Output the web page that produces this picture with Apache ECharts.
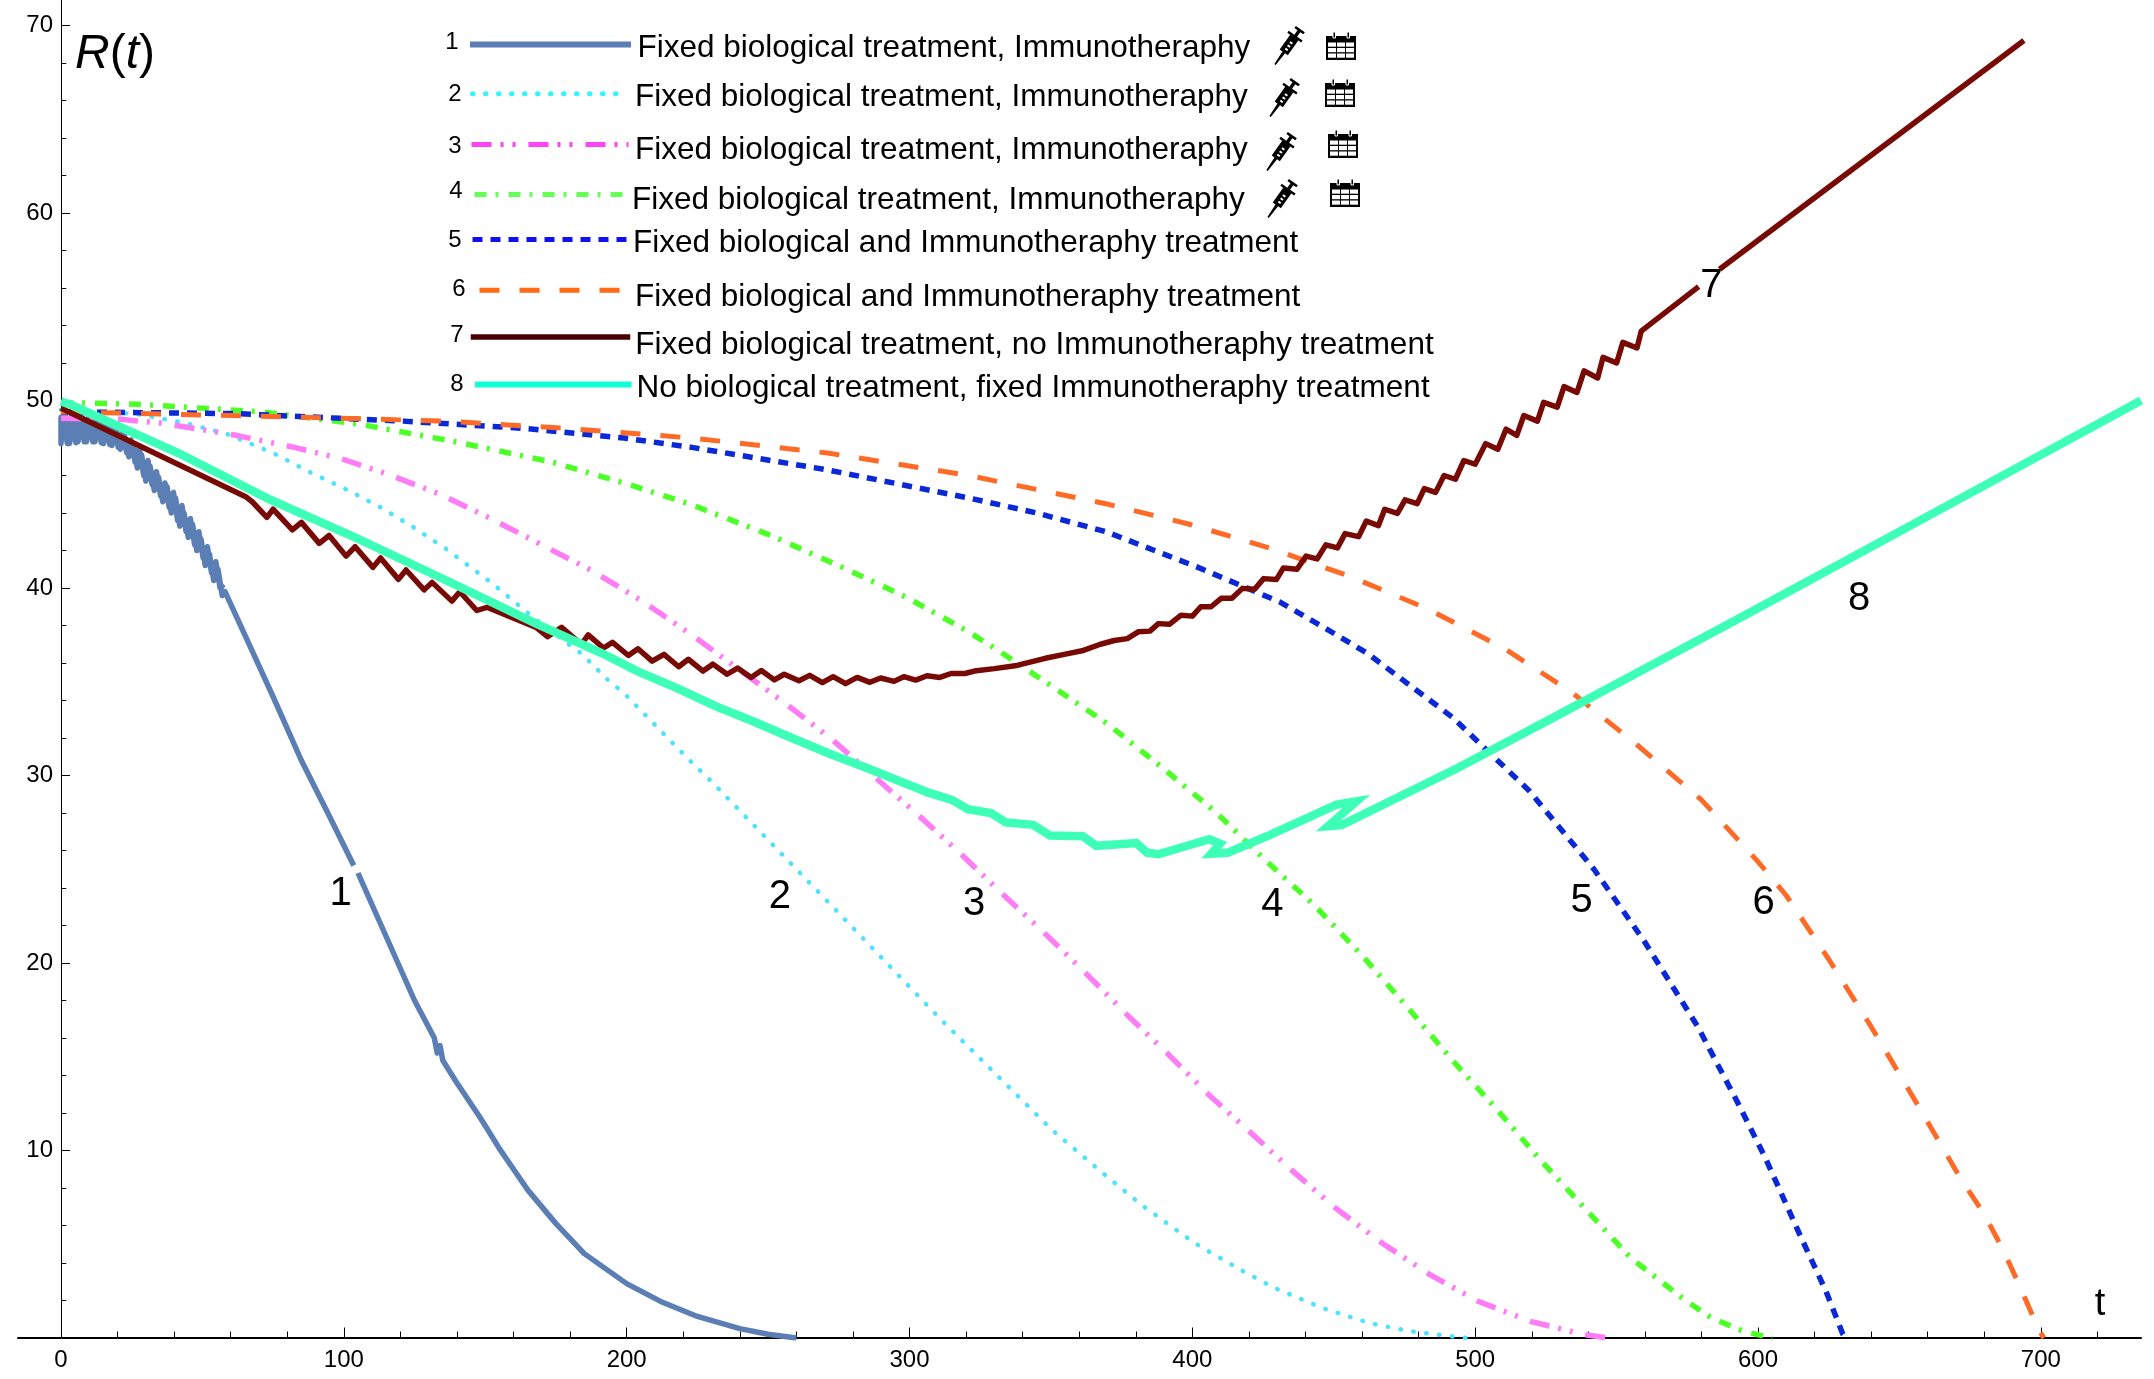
<!doctype html>
<html>
<head>
<meta charset="utf-8">
<title>R(t)</title>
<script src="https://cdn.jsdelivr.net/npm/echarts@6/dist/echarts.min.js"></script>
<style>html,body{margin:0;background:#fff}#main{width:2154px;height:1379px}</style>
</head>
<body>
<div id="main"></div>
<script>
// curves, [t, R]
var curve1 = [[57.5,40.2],[56.25,40],[54.75,41.4],[53.25,40.8],[51.75,42.2],[50.25,41.6],[48.75,43],[47.25,42.3],[45.75,43.7],[44.25,43],[42.75,44.4],[41.25,43.6],[39.75,45.1],[38.25,44.3],[36.75,45.6],[35.25,44.9],[33.75,46.2],[32.25,45.5],[30.75,46.8],[29.25,46],[27.75,47.4],[26.25,46.7],[24.75,47.9],[23.25,47.2],[21.75,48.3],[20.25,47.5],[18.75,48.65],[17.25,47.65],[15.75,48.9],[14.25,47.75],[12.75,49],[11.25,47.8],[9.75,49.1],[8.25,47.8],[6.75,49.15],[5.25,47.75],[3.75,49.2],[2.25,47.7],[0.75,49.2],[0,47.7],[0,49.1],[1.5,49.2],[3,47.7],[4.5,49.2],[6,47.8],[7.5,49.1],[9,47.8],[10.5,49.1],[12,47.8],[13.5,49],[15,47.7],[16.5,48.8],[18,47.6],[19.5,48.5],[21,47.4],[22.5,48.1],[24,47],[25.5,47.7],[27,46.4],[28.5,47.1],[30,45.7],[31.5,46.5],[33,45.2],[34.5,45.9],[36,44.6],[37.5,45.4],[39,44],[40.5,44.8],[42,43.3],[43.5,44],[45,42.7],[46.5,43.4],[48,42],[49.5,42.6],[51,41.2],[52.5,41.8],[54,40.4],[55.5,41],[57,39.6],[58,39.8],[65,37.5],[75,34.2],[85,30.8],[95,27.8],[103.5,25.2],[104,null],[105,24.8],[115,21.4],[125,18],[132,16],[133,15.2],[134,15.6],[135,14.8],[140,13.6],[148,11.8],[150.5,11.2],[155,10.1],[160,9],[165,7.9],[175,6.1],[185,4.5],[200,2.9],[212,1.95],[225,1.15],[240,0.5],[250,0.2],[260,0]];
var curve2 = [[0,49.5],[26,49.3],[44,48.8],[59,48.2],[75,47.2],[89,46.1],[101,45.25],[113,44.3],[125,43.2],[136,42.1],[152,40.3],[168,38.3],[184,36.5],[194,35],[199,34.4],[221,31],[230.5,29.6],[269,23.6],[311,17],[350,11.15],[367.5,8.9],[382,7.1],[400.7,5.07],[417,3.64],[429,2.67],[446,1.6],[462.5,0.8],[477,0.36],[494.5,0.04],[497,0]];
var curve3 = [[0,49.05],[21,49],[35,48.8],[60,48.2],[82.5,47.5],[99,46.9],[115,46.1],[134,45],[152,43.7],[170,42.3],[188,40.9],[205.5,39.3],[223,37.5],[255.6,33.9],[272,32],[303,27.9],[317.6,25.9],[332,23.8],[347,21.7],[362,19.5],[376.5,17.3],[391,15.2],[405.6,13],[421,10.9],[435.5,8.9],[450.6,6.93],[467,5.07],[484,3.38],[501,1.96],[519.5,0.89],[538.5,0.18],[547,0]];
var curve4 = [[0,49.9],[27,49.8],[70.5,49.4],[105,48.75],[139.5,47.8],[174,46.7],[199,45.6],[222,44.5],[251,42.8],[277,41.05],[299,39.5],[320.5,37.7],[331,36.7],[351,34.7],[370.5,32.7],[389.5,30.4],[408.6,28],[425.7,25.5],[443,23.1],[460,20.4],[476,17.65],[492,14.8],[507.6,12.2],[523,9.5],[539.7,6.76],[555,4.27],[574,2.04],[583.6,1.07],[594.8,0.36],[605,0]];
var curve5 = [[0,49.4],[62,49.3],[121,48.9],[165,48.5],[199,48],[223,47.5],[271,46.3],[321,44.8],[345,44],[369.5,43],[402,41.1],[431,39.25],[446.5,37.9],[462,36.5],[492,33.1],[519,29.2],[542,25],[559.6,21.2],[578.7,16.6],[593,12.5],[602.6,9.6],[614.5,5.6],[624,2.5],[630,0.2],[631,0]];
var curve6 = [[0,49.4],[88.5,49.1],[136,48.9],[180,48.5],[223,48],[271,47.2],[321,46],[370.7,44.45],[399,43.4],[428,42.1],[456,40.6],[483,38.9],[510,36.8],[534,34.45],[557.5,31.6],[580,28.7],[600,25.4],[610,23.6],[625,20.2],[640,16.6],[655,12.8],[667,9.7],[671.5,8.53],[680,6.6],[687,4.6],[693,2.6],[699,0.53],[701,0]];
var curve7 = [[0,49.6],[5,49.23],[65.3,44.87],[67.6,44.6],[72.8,43.77],[75,44.2],[81.8,43.1],[85,43.5],[91.3,42.38],[94.8,42.8],[100.8,41.7],[104,42.2],[110.3,41.1],[113,41.6],[119.3,40.46],[122,40.96],[128.4,39.9],[131.2,40.3],[138.2,39.3],[141,39.8],[147,38.8],[150.6,38.97],[168,37.9],[172,37.4],[177,37.9],[184,37],[186.4,37.5],[191.8,36.8],[195,37.1],[200.6,36.4],[204,36.76],[209,36.1],[213.2,36.46],[218.4,35.8],[221.8,36.2],[227,35.57],[230.5,35.94],[235.5,35.4],[239.2,35.73],[244,35.23],[247.6,35.6],[252.2,35.1],[255.7,35.4],[260.9,35.05],[264.7,35.34],[269.2,34.95],[273,35.27],[277.4,34.9],[281.5,35.23],[286,34.97],[289.8,35.2],[294.5,35.02],[298,35.27],[302.2,35.09],[306.2,35.32],[310.7,35.23],[314.7,35.44],[319.6,35.44],[323.6,35.59],[330,35.7],[338,35.87],[348,36.25],[356,36.5],[361,36.65],[367.5,37],[372.4,37.2],[377,37.3],[381,37.67],[385,37.7],[388,38.1],[392,38.07],[396,38.55],[400,38.5],[403,39],[406.6,39],[410.2,39.45],[414,39.45],[417.7,39.98],[422,39.93],[425.2,40.5],[429.7,40.45],[432.2,41.07],[437,41],[440.2,41.7],[444.1,41.55],[447.2,42.3],[451.3,42.14],[454,42.9],[458.8,42.74],[461.5,43.57],[465.8,43.33],[468,44.2],[472.5,43.98],[475.2,44.7],[479.5,44.5],[482,45.3],[486,45.1],[489,46],[493,45.8],[496,46.8],[500,46.6],[503.7,47.7],[508,47.4],[510.9,48.47],[514.7,48.14],[517.2,49.2],[522,48.9],[524.2,49.9],[529,49.65],[531.4,50.74],[536,50.43],[538.5,51.58],[543.3,51.2],[545.2,52.3],[550,52],[552.2,53.1],[557.2,52.8],[558.7,53.7],[579,56.07],[582,null],[586.4,57],[634,62.4],[694,69.2]];
var curve8 = [[0,49.95],[3.7,49.76],[41.5,47.2],[73,44.78],[104.7,42.65],[136.3,40.4],[168,38.1],[190.7,36.56],[204.3,35.53],[217.8,34.66],[231.4,33.7],[244.9,32.88],[258.4,32],[272,31.15],[285.4,30.37],[299,29.55],[307,29.07],[315,28.7],[320.6,28.2],[328.8,28],[334,27.5],[343.7,27.37],[349.7,26.8],[361.3,26.76],[366,26.25],[380.2,26.4],[384,25.88],[388,25.8],[406,26.6],[409.8,26.36],[406.7,25.83],[412.5,25.88],[427.5,26.83],[451,28.45],[458,28.62],[448,27.3],[452.8,27.36],[493.8,30.4],[525.3,32.9],[557,35.45],[588.6,38],[615,40.15],[656,43.5],[735.4,50]];

var curveNames = ['1','2','3','4','5','6','7','8'];
var legendTexts = [
    'Fixed biological treatment, Immunotheraphy',
    'Fixed biological treatment, Immunotheraphy',
    'Fixed biological treatment, Immunotheraphy',
    'Fixed biological treatment, Immunotheraphy',
    'Fixed biological and Immunotheraphy treatment',
    'Fixed biological and Immunotheraphy treatment',
    'Fixed biological treatment, no Immunotheraphy treatment',
    'No biological treatment, fixed Immunotheraphy treatment'
];
// [t, R, text] of the numbers sitting next to the curves
var curveLabels = [[98.9,23.7,'1'],[254.2,23.5,'2'],[322.8,23.15,'3'],[428.3,23.1,'4'],[537.6,23.3,'5'],[602,23.2,'6'],[583.5,56.1,'7'],[635.7,39.4,'8']];

var xMajorTicks = [0,100,200,300,400,500,600,700];
var xMinorTicks = [0,20,40,60,80,100,120,140,160,180,200,220,240,260,280,300,320,340,360,380,400,420,440,460,480,500,520,540,560,580,600,620,640,660,680,700,720];
var yMajorTicks = [0,10,20,30,40,50,60,70];
var yMinorTicks = [0,2,4,6,8,10,12,14,16,18,20,22,24,26,28,30,32,34,36,38,40,42,44,46,48,50,52,54,56,58,60,62,64,66,68,70];
var yLabels = [10,20,30,40,50,60,70];

var FONT = 'Liberation Sans';
var curveStyles = [
    {color: '#5b7fb5', width: 5.5},
    {color: '#4de3ff', width: 4.5, type: [0.5, 12.5], cap: 'round'},
    {color: '#ff7cf7', width: 5.5, type: [20, 9, 3, 9, 3, 13]},
    {color: '#4cff26', width: 5.5, type: [12, 9, 3, 10]},
    {color: '#0a28d6', width: 5.5, type: [10, 8]},
    {color: '#ff6a26', width: 5, type: [20, 20]},
    {color: '#780a05', width: 5.5},
    {color: '#3effb8', width: 8.5, join: 'miter'}
];
// sample line start / end / width / colour, its y, text start and drop below the line, number position
var legendLayout = [
    {x0: 467, x1: 628, y: 44, w: 6, c: '#5b7fb5', tx: 634.5, drop: 4, nx: 452, ny: 42},
    {x0: 470, x1: 619, y: 94, w: 5, c: '#33f5ff', tx: 632.5, drop: 3, nx: 455, ny: 94},
    {x0: 469, x1: 626, y: 143, w: 5, c: '#ff44f5', tx: 632.5, drop: 5.5, nx: 455, ny: 146},
    {x0: 472, x1: 629, y: 193, w: 5, c: '#66ff55', tx: 629.5, drop: 5.5, nx: 456, ny: 191},
    {x0: 470, x1: 628, y: 239, w: 5, c: '#1111f0', tx: 630.5, drop: 4, nx: 455, ny: 240},
    {x0: 477, x1: 626, y: 288, w: 5, c: '#ff6a14', tx: 632.5, drop: 7, nx: 459, ny: 289},
    {x0: 468, x1: 628, y: 334, w: 5.5, c: '#4a0000', tx: 632.5, drop: 8, nx: 457, ny: 335},
    {x0: 472, x1: 633, y: 384, w: 6, c: '#10ffd8', tx: 633.5, drop: 4, nx: 457, ny: 384}
];
var syringePos = [[1289,45],[1284,97],[1281,151],[1282,198]];
var calendarPos = [[1341,46],[1340,93],[1343,144],[1345,193]];
var syringeOutline = [[-24,-0.8],[-9,-1.6],[-9,-5],[9,-5],[9,-8.5],[11.5,-8.5],[11.5,-1.7],[17,-1.7],[17,-5.5],[19.5,-5.5],[19.5,5.5],[17,5.5],[17,1.7],[11.5,1.7],[11.5,8.5],[9,8.5],[9,5],[-9,5],[-9,1.6],[-24,0.8]];

function syringe(p) {
    return {
        type: 'group', x: p[0], y: p[1], rotation: 0.95,
        children: [
            {type: 'polygon', shape: {points: syringeOutline}, style: {fill: '#000'}},
            {type: 'rect', shape: {x: -6, y: -1, width: 2, height: 3}, style: {fill: '#fff'}},
            {type: 'rect', shape: {x: -2, y: -1, width: 2, height: 3}, style: {fill: '#fff'}},
            {type: 'rect', shape: {x: 2, y: -1, width: 2, height: 3}, style: {fill: '#fff'}}
        ]
    };
}
function calendar(p) {
    var kids = [
        {type: 'rect', shape: {x: -15, y: -10, width: 30, height: 24}, style: {fill: '#000'}},
        {type: 'rect', shape: {x: -8, y: -14, width: 2.5, height: 6}, style: {fill: '#000', stroke: '#fff', lineWidth: 1}},
        {type: 'rect', shape: {x: 6, y: -14, width: 2.5, height: 6}, style: {fill: '#000', stroke: '#fff', lineWidth: 1}}
    ];
    for (var r = 0; r < 3; r++) {
        for (var c = 0; c < 3; c++) {
            kids.push({type: 'rect', shape: {x: -13 + c * 9, y: -3.5 + r * 5.5, width: 8, height: 4.2}, style: {fill: '#fff'}});
        }
    }
    return {type: 'group', x: p[0], y: p[1], children: kids};
}

var chart = echarts.init(document.getElementById('main'), null, {renderer: 'canvas', devicePixelRatio: 1});

var curves = [curve1, curve2, curve3, curve4, curve5, curve6, curve7, curve8];
var series = curves.map(function (data, i) {
    var st = curveStyles[i];
    return {
        name: curveNames[i], type: 'line', data: data, symbol: 'none', smooth: false,
        lineStyle: {color: st.color, width: st.width, type: st.type || 'solid', cap: st.cap || 'butt', join: st.join || 'round'},
        itemStyle: {color: st.color}
    };
});
series.push({
    type: 'scatter', data: curveLabels, symbolSize: 1, itemStyle: {color: 'transparent', opacity: 1}, z: 5,
    label: {
        show: true, position: 'inside', color: '#000', fontSize: 40, fontFamily: FONT, textBorderWidth: 0,
        formatter: function (p) { return p.value[2]; }
    }
});

var legends = curveNames.map(function (name, i) {
    var l = legendLayout[i];
    // vertical padding does not move middle-aligned legend text, an empty first line does
    var lh = 2 * l.drop;
    var end = Math.min(l.x1, l.tx - 5);
    return {
        data: [{name: name, lineStyle: {color: l.c, width: l.w}}],
        left: l.x0, top: l.y - 18 - lh * 0.19, padding: 0, selectedMode: false,
        itemWidth: end - l.x0, itemHeight: 14,
        itemStyle: {color: 'transparent', borderWidth: 0, opacity: 0},
        lineStyle: {width: l.w},
        formatter: function () { return '\n' + legendTexts[i]; },
        textStyle: {
            fontFamily: FONT, fontSize: 31.5, color: '#000', lineHeight: lh,
            padding: [0, 0, 0, l.tx - end - 5]
        }
    };
});

var graphics = legendLayout.map(function (l, i) {
    return {type: 'text', x: l.nx, y: l.ny, style: {text: curveNames[i], font: '24px ' + FONT, fill: '#000', align: 'center', verticalAlign: 'middle'}};
});
syringePos.forEach(function (p) { graphics.push(syringe(p)); });
calendarPos.forEach(function (p) { graphics.push(calendar(p)); });

var xBase = {type: 'value', min: -15.2, max: 735.4, splitLine: {show: false}, position: 'bottom'};
var yBase = {type: 'value', min: 0, max: 71.36, splitLine: {show: false}, position: 'left'};

chart.setOption({
    animation: false,
    backgroundColor: '#fff',
    grid: {left: 18, right: 13, top: 0, bottom: 41, containLabel: false, outerBoundsMode: 'none'},
    legend: legends,
    graphic: graphics,
    xAxis: [
        Object.assign({}, xBase, {
            axisLine: {onZero: false, lineStyle: {color: '#000', width: 2}},
            axisTick: {inside: true, length: 10.5, lineStyle: {color: '#000', width: 1}, customValues: xMajorTicks},
            axisLabel: {customValues: xMajorTicks, color: '#000', fontFamily: FONT, fontSize: 24, margin: 10},
            name: 't\n\n', nameLocation: 'end', nameGap: -41, nameMoveOverlap: false,
            nameTextStyle: {fontFamily: FONT, fontSize: 38, lineHeight: 33, color: '#000', align: 'center', verticalAlign: 'middle'}
        }),
        Object.assign({}, xBase, {
            axisLine: {show: false, onZero: false},
            axisTick: {inside: true, length: 6.5, lineStyle: {color: '#000', width: 1}, customValues: xMinorTicks},
            axisLabel: {show: false}
        })
    ],
    yAxis: [
        Object.assign({}, yBase, {
            axisLine: {onZero: true, onZeroAxisIndex: 0, lineStyle: {color: '#000', width: 1}},
            axisTick: {inside: true, length: 9, lineStyle: {color: '#000', width: 1}, customValues: yMajorTicks},
            // labels stay at the grid edge with onZero, so pull them back to the axis at t = 0
            axisLabel: {customValues: yLabels, color: '#000', fontFamily: FONT, fontSize: 24, margin: -35},
            name: '{i|R}({i|t})', nameLocation: 'end', nameGap: -55, nameMoveOverlap: false,
            nameTextStyle: {
                fontFamily: FONT, fontSize: 48, color: '#000', align: 'left', verticalAlign: 'middle', padding: [0, 0, 0, 14],
                rich: {i: {fontFamily: FONT, fontSize: 48, fontStyle: 'italic', color: '#000'}}
            }
        }),
        Object.assign({}, yBase, {
            axisLine: {show: false, onZero: true, onZeroAxisIndex: 0},
            axisTick: {inside: true, length: 5.3, lineStyle: {color: '#000', width: 1}, customValues: yMinorTicks},
            axisLabel: {show: false}
        })
    ],
    series: series
});
</script>
</body>
</html>
